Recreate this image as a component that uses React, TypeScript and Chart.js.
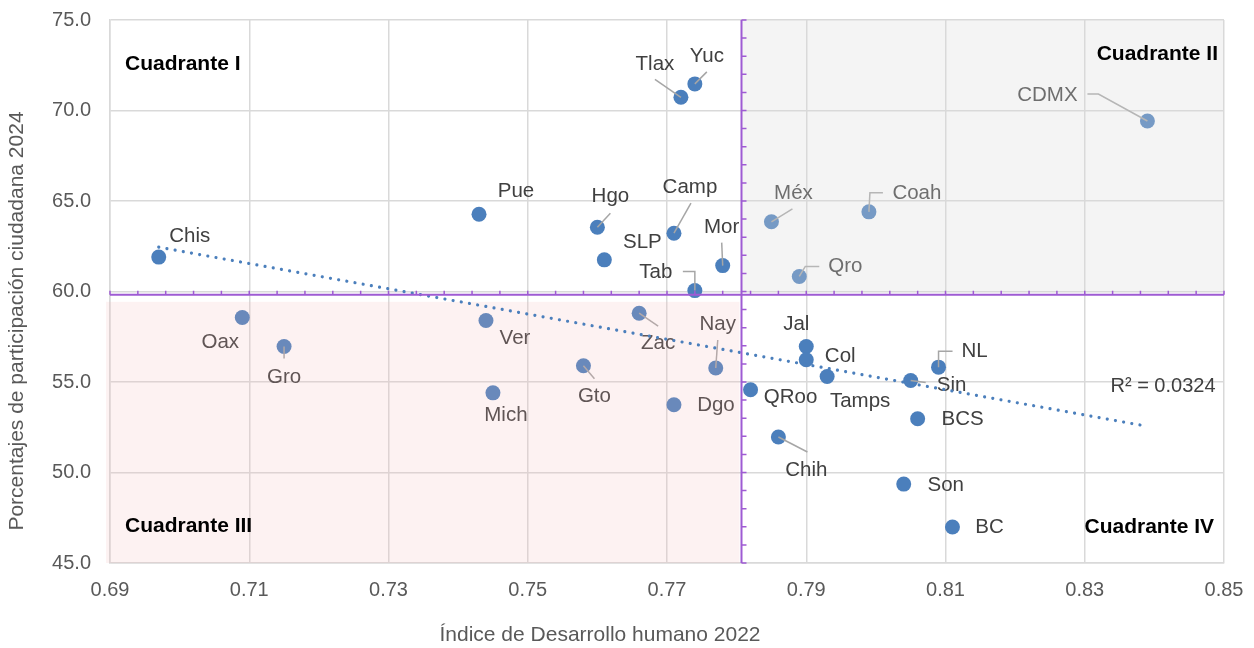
import React, { useEffect, useRef } from "react";
import { Chart, registerables } from "chart.js";

Chart.register(...registerables);

const states = ["Chis","Oax","Gro","Pue","Ver","Mich","Gto","Hgo","SLP","Zac","Camp","Dgo","Tlax","Yuc","Tab","Mor","Nay","QRoo","Chih","Méx","Qro","Jal","Col","Tamps","Coah","Son","Sin","BCS","NL","BC","CDMX"];
const idh2022 = [0.697,0.709,0.715,0.743,0.744,0.745,0.758,0.760,0.761,0.766,0.771,0.771,0.772,0.774,0.774,0.778,0.777,0.782,0.786,0.785,0.789,0.790,0.790,0.793,0.799,0.804,0.805,0.806,0.809,0.811,0.839];
const participacion2024 = [61.9,58.56,56.96,64.27,58.4,54.4,55.9,63.55,61.75,58.8,63.22,53.74,70.73,71.47,60.05,61.43,55.77,54.57,51.96,63.85,60.83,56.96,56.23,55.3,64.4,49.36,55.08,52.97,55.82,46.99,69.42];

const trendX = [0.697, 0.839];
const trendY = [62.45, 52.55];
const r2Text = "R² = 0.0324";

const xTicks = [0.69, 0.71, 0.73, 0.75, 0.77, 0.79, 0.81, 0.83, 0.85];
const yTicks = [45, 50, 55, 60, 65, 70, 75];

const idhMean = 0.7807;
const partMean = 59.82;

const xTitle = "Índice de Desarrollo humano 2022";
const yTitle = "Porcentajes de participación ciudadana 2024";
const quadrantNames = ["Cuadrante I", "Cuadrante II", "Cuadrante III", "Cuadrante IV"];

// label layout (text centre offset from point, px) and leader-line paths
const labelOffsets: [number, number][] = [
  [31,-21],[-22,25],[0,31],[37,-23],[29,18],[13,22],[11,31],[13,-31],[38,-17],[19,30],
  [16,-46],[42,1],[-26,-33],[12,-28],[-39,-18],[-1,-38],[2,-44],[40,8],[28,33],[22,-28],
  [46,-10],[-10,-22],[34,-3],[33,25],[48,-19],[42,1],[41,5],[45,1],[36,-16],[37,0],[-100,-26]
];
const leaders: Record<string, [number, number][]> = {
  Hgo: [[0,0],[13,-14]],
  Camp: [[0,0],[17,-30]],
  Tab: [[0,0],[0,-19],[-12,-19]],
  Mor: [[0,0],[-1,-23]],
  Tlax: [[0,0],[-26,-18]],
  Yuc: [[0,0],[12,-12]],
  "Méx": [[0,0],[21,-13]],
  Coah: [[0,0],[1,-19],[14,-19]],
  Qro: [[0,0],[6,-10],[20,-10]],
  CDMX: [[0,0],[-49,-27],[-60,-27]],
  Gro: [[0,0],[0,12]],
  Gto: [[0,0],[11,13]],
  Zac: [[0,0],[19,13]],
  Nay: [[0,0],[2,-28]],
  Sin: [[0,0],[15,2]],
  NL: [[0,0],[0,-16],[14,-16]],
  Chih: [[0,0],[29,15]],
};

const FONT = '"Liberation Sans", Arial, sans-serif';
const POINT_COLOR = "#4B7FBC";
const GRID = "#D9D9D9";
const PURPLE = "#9E5BD3";

const grayBox = { x0: 0.7807, x1: 0.85, y0: 60, y1: 75, color: "rgba(218,218,218,0.30)" };
const pinkBox = { x0: 0.68943, x1: 0.7804, y0: 45, y1: 59.43, color: "rgba(245,185,185,0.18)" };

const overlayPlugin = {
  id: "quadOverlay",
  afterDatasetDraw(chart: any, args: any) {
    if (args.index !== 0) return;
    const ctx = chart.ctx;
    const xs = chart.scales.x;
    const ys = chart.scales.y;
    ctx.save();
    ctx.strokeStyle = "#A6A6A6";
    ctx.lineWidth = 1.5;
    states.forEach((s, i) => {
      const path = leaders[s];
      if (!path) return;
      const px = xs.getPixelForValue(idh2022[i]);
      const py = ys.getPixelForValue(participacion2024[i]);
      ctx.beginPath();
      path.forEach(([dx, dy], k) => {
        if (k === 0) ctx.moveTo(px + dx, py + dy);
        else ctx.lineTo(px + dx, py + dy);
      });
      ctx.stroke();
    });
    ctx.fillStyle = "#404040";
    ctx.font = `20.5px ${FONT}`;
    ctx.textAlign = "center";
    ctx.textBaseline = "middle";
    states.forEach((s, i) => {
      const px = xs.getPixelForValue(idh2022[i]);
      const py = ys.getPixelForValue(participacion2024[i]);
      const [dx, dy] = labelOffsets[i];
      ctx.fillText(s, px + dx, py + dy);
    });
    [grayBox, pinkBox].forEach((b) => {
      const l = xs.getPixelForValue(b.x0);
      const r = xs.getPixelForValue(b.x1);
      const t = ys.getPixelForValue(b.y1);
      const bt = ys.getPixelForValue(b.y0);
      ctx.fillStyle = b.color;
      ctx.fillRect(l, t, r - l, bt - t);
    });
    ctx.restore();
  },
  afterDraw(chart: any) {
    const ctx = chart.ctx;
    const xs = chart.scales.x;
    const ys = chart.scales.y;
    const area = chart.chartArea;
    ctx.save();
    const vx = xs.getPixelForValue(idhMean);
    const hy = ys.getPixelForValue(partMean);
    ctx.strokeStyle = PURPLE;
    ctx.lineWidth = 2;
    ctx.beginPath();
    ctx.moveTo(vx, area.top);
    ctx.lineTo(vx, area.bottom);
    ctx.moveTo(area.left, hy);
    ctx.lineTo(area.right, hy);
    ctx.stroke();
    ctx.lineWidth = 1.5;
    ctx.beginPath();
    for (let v = 45; v <= 75; v++) {
      const y = ys.getPixelForValue(v);
      ctx.moveTo(vx, y);
      ctx.lineTo(vx + 5, y);
    }
    for (let k = 0; k <= 40; k++) {
      const x = xs.getPixelForValue(0.69 + k * 0.004);
      ctx.moveTo(x, hy);
      ctx.lineTo(x, hy - 4);
    }
    ctx.stroke();

    ctx.fillStyle = "#000000";
    ctx.font = `bold 21px ${FONT}`;
    ctx.textBaseline = "middle";
    ctx.textAlign = "left";
    ctx.fillText(quadrantNames[0], area.left + 15, area.top + 44);
    ctx.fillText(quadrantNames[2], area.left + 15, area.bottom - 37);
    ctx.textAlign = "right";
    ctx.fillText(quadrantNames[1], area.right - 6, area.top + 34);
    ctx.fillText(quadrantNames[3], area.right - 10, area.bottom - 36);

    ctx.fillStyle = "#404040";
    ctx.font = `20px ${FONT}`;
    ctx.textAlign = "center";
    ctx.fillText(r2Text, 1163, 386);

    ctx.fillStyle = "#595959";
    ctx.font = `21px ${FONT}`;
    ctx.textAlign = "center";
    ctx.fillText(xTitle, 600, 635);
    ctx.translate(17, 321);
    ctx.rotate(-Math.PI / 2);
    ctx.fillText(yTitle, 0, 0);
    ctx.restore();
  },
};

export default function App() {
  const ref = useRef<HTMLCanvasElement | null>(null);
  useEffect(() => {
    document.body.style.margin = "0";
    const canvas = ref.current!;
    const chart = new Chart(canvas, {
      type: "scatter",
      data: {
        datasets: [
          {
            label: "Estados",
            data: idh2022.map((x, i) => ({ x, y: participacion2024[i] })),
            backgroundColor: POINT_COLOR,
            borderColor: POINT_COLOR,
            pointRadius: 7.5,
            pointHoverRadius: 7.5,
            borderWidth: 0,
            order: 2,
          },
          {
            type: "line",
            label: "Tendencia",
            data: trendX.map((x, i) => ({ x, y: trendY[i] })),
            borderColor: POINT_COLOR,
            borderWidth: 3.2,
            borderDash: [0.01, 8.3],
            borderCapStyle: "round",
            pointRadius: 0,
            fill: false,
            order: 1,
          } as any,
        ],
      },
      options: {
        responsive: false,
        animation: false,
        devicePixelRatio: 1,
        layout: { padding: { left: 0, top: 20, right: 30, bottom: 0 } },
        plugins: { legend: { display: false }, tooltip: { enabled: false } },
        scales: {
          x: {
            type: "linear",
            min: 0.69,
            max: 0.85,
            afterBuildTicks: (s: any) => { s.ticks = xTicks.map((v) => ({ value: v })); },
            afterFit: (s: any) => { s.height = 85; s.paddingLeft = 0; s.paddingRight = 0; },
            grid: { color: GRID, lineWidth: 1.5, drawTicks: false },
            border: { color: GRID, width: 1.5 },
            ticks: {
              color: "#595959",
              font: { family: FONT, size: 20 },
              padding: 15,
              maxRotation: 0,
              callback: (v: any) => Number(v).toFixed(2),
            },
          },
          y: {
            type: "linear",
            min: 45,
            max: 75,
            afterBuildTicks: (s: any) => { s.ticks = yTicks.map((v) => ({ value: v })); },
            afterFit: (s: any) => { s.width = 110; s.paddingTop = 0; s.paddingBottom = 0; },
            grid: { color: GRID, lineWidth: 1.5, drawTicks: false },
            border: { color: GRID, width: 1.5 },
            ticks: {
              color: "#595959",
              font: { family: FONT, size: 20 },
              padding: 19,
              callback: (v: any) => Number(v).toFixed(1),
            },
          },
        },
      },
      plugins: [overlayPlugin],
    });
    return () => chart.destroy();
  }, []);
  return (
    <div style={{ width: 1254, height: 648, background: "#ffffff" }}>
      <canvas ref={ref} width={1254} height={648} />
    </div>
  );
}
